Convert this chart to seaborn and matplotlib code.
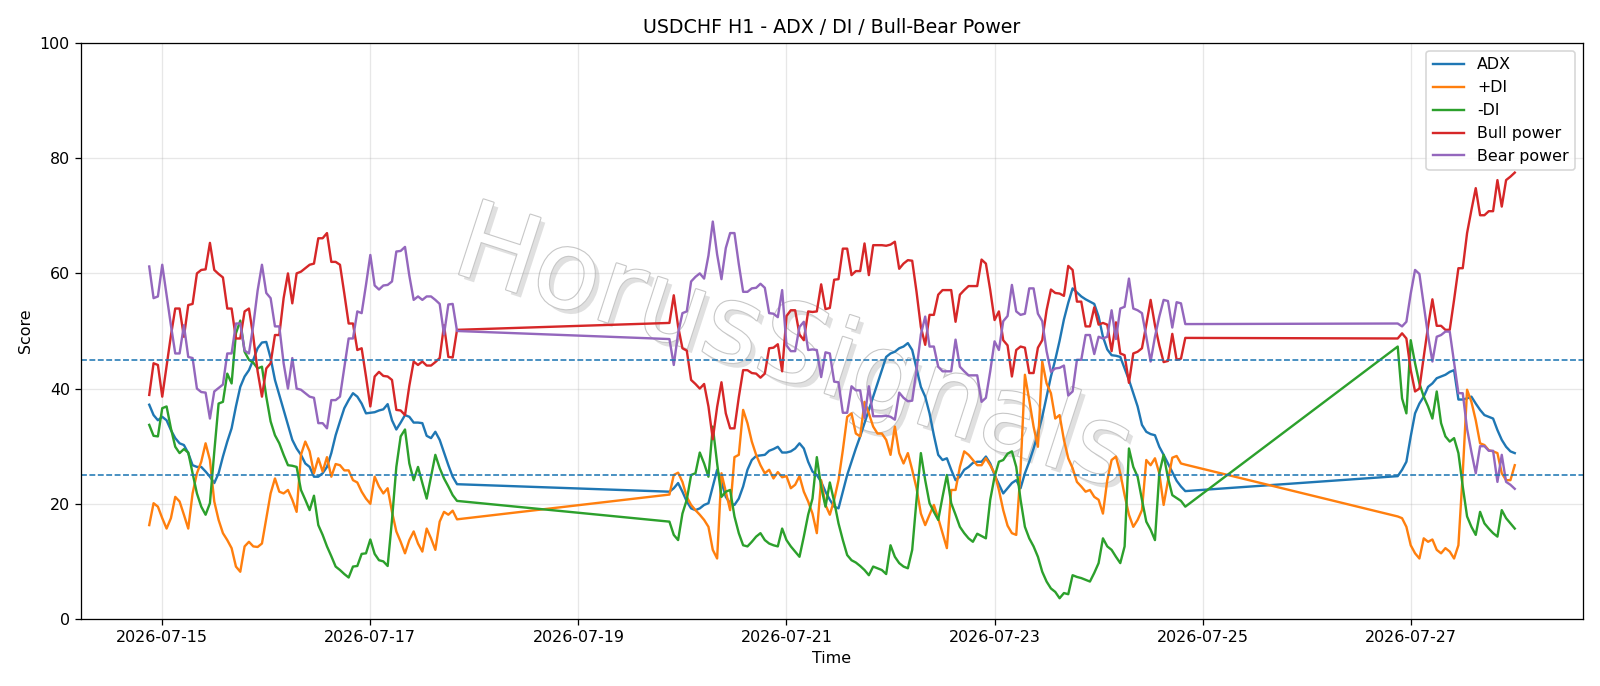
import matplotlib
matplotlib.use("Agg")
import matplotlib.pyplot as plt
import matplotlib.dates as mdates
import matplotlib.patheffects as pe
import pandas as pd
import seaborn as sns

# hourly bars in three trading blocks; weekend gaps are bridged by the line
SEG_STARTS = ["2026-07-14 21:00", "2026-07-19 21:00", "2026-07-26 21:00"]
SEG_LENGTHS = [72, 120, 28]

ADX = [
    37.2, 35.4, 34.5, 35.1, 34.5, 32.8, 31.4, 30.5, 30.2, 28.8,
    26.7, 26.4, 26.4, 25.6, 24.7, 23.6, 25.3, 28.2, 30.8, 33.1,
    36.9, 40.3, 42.1, 43.2, 45.0, 47.0, 48.0, 48.1, 45.3, 41.5,
    38.9, 36.3, 33.7, 31.1, 29.6, 28.5, 27.0, 26.4, 24.7, 24.7,
    25.3, 26.4, 28.8, 31.9, 34.3, 36.6, 38.0, 39.2, 38.6, 37.4,
    35.7, 35.8, 35.9, 36.2, 36.4, 37.3, 34.5, 32.9, 34.1, 35.4,
    35.1, 34.1, 34.1, 34.0, 31.8, 31.4, 32.5, 31.1, 28.9, 26.7,
    24.7, 23.4,
    22.1, 22.7, 23.6, 22.1, 20.4, 19.2, 18.9, 19.2, 19.8, 20.1,
    23.0, 25.9, 23.8, 21.2, 20.1, 19.8, 20.9, 23.0, 25.9, 27.6,
    28.3, 28.4, 28.5, 29.2, 29.5, 29.9, 28.9, 28.9, 29.1, 29.6,
    30.5, 29.6, 27.3, 25.6, 25.0, 23.8, 22.1, 20.7, 19.5, 19.2,
    22.1, 25.0, 27.3, 29.6, 31.7, 34.0, 36.3, 38.6, 40.9, 43.2,
    45.5, 46.1, 46.4, 47.0, 47.3, 47.9, 46.7, 43.5, 40.3, 38.6,
    35.7, 31.9, 28.5, 27.6, 27.9, 25.9, 24.1, 24.7, 25.9, 26.4,
    27.1, 27.3, 27.3, 28.2, 27.0, 25.0, 23.4, 21.8, 22.7, 23.6,
    24.1, 22.7, 25.3, 27.3, 29.6, 32.2, 35.1, 38.6, 42.1, 45.0,
    48.3, 52.0, 54.9, 57.4, 56.7, 56.0, 55.5, 55.1, 54.7, 52.5,
    49.0, 46.8, 45.8, 45.7, 45.5, 43.5, 41.5, 39.2, 36.9, 33.7,
    32.5, 32.1, 31.9, 29.9, 28.5, 27.0, 25.5, 24.0, 23.0, 22.2,
    24.8, 25.9, 27.3, 31.7, 35.7, 37.4, 38.6, 40.3, 40.9, 41.8,
    42.1, 42.4, 42.9, 43.2, 38.1, 38.1, 38.3, 38.6, 37.4, 36.3,
    35.4, 35.1, 34.8, 32.8, 31.1, 29.9, 29.1, 28.8,
]

PLUS_DI = [
    16.3, 20.1, 19.5, 17.5, 15.7, 17.5, 21.2, 20.4, 18.1, 15.7,
    21.8, 25.3, 27.3, 30.5, 27.6, 20.4, 17.2, 14.9, 13.7, 12.3,
    9.1, 8.2, 12.6, 13.4, 12.6, 12.5, 13.1, 17.5, 21.8, 24.4,
    22.1, 21.8, 22.4, 20.7, 18.6, 28.5, 30.8, 29.1, 25.3, 27.9,
    25.6, 28.1, 24.7, 26.9, 26.7, 25.8, 25.8, 24.1, 23.7, 22.1,
    20.9, 20.0, 24.7, 23.0, 21.8, 22.7, 18.6, 15.2, 13.4, 11.4,
    13.7, 15.2, 13.1, 11.7, 15.7, 14.0, 12.0, 16.9, 18.6, 18.1,
    18.8, 17.3,
    21.6, 25.0, 25.4, 23.8, 21.2, 19.8, 18.9, 18.1, 17.2, 16.0,
    12.0, 10.5, 25.3, 22.1, 18.9, 28.1, 28.5, 36.3, 34.0, 30.8,
    28.5, 26.7, 25.3, 25.9, 24.4, 25.5, 24.6, 24.8, 22.7, 23.3,
    24.8, 22.1, 20.4, 18.3, 14.9, 24.1, 19.8, 18.1, 20.7, 24.1,
    29.3, 35.1, 35.7, 32.2, 31.7, 37.7, 35.7, 33.4, 32.2, 32.2,
    31.1, 28.5, 33.4, 28.8, 27.0, 28.8, 25.9, 22.7, 18.3, 16.3,
    18.1, 19.8, 17.5, 14.9, 12.3, 22.4, 22.4, 26.4, 29.1, 28.5,
    27.6, 26.7, 26.7, 27.9, 26.7, 25.3, 22.4, 18.9, 16.2, 14.9,
    14.6, 25.9, 42.4, 38.0, 33.4, 29.9, 44.7, 40.9, 39.2, 34.8,
    35.4, 31.1, 27.9, 26.2, 23.8, 23.0, 22.1, 22.4, 21.2, 20.7,
    18.3, 24.1, 27.6, 28.2, 25.3, 21.5, 18.1, 16.0, 17.2, 18.9,
    27.6, 26.7, 27.9, 25.3, 19.8, 24.0, 28.0, 28.3, 27.0, 26.8,
    17.8, 17.5, 16.0, 12.8, 11.4, 10.5, 14.0, 13.4, 13.8, 12.0,
    11.4, 12.3, 11.7, 10.5, 12.8, 25.3, 39.8, 37.7, 34.5, 30.5,
    30.2, 29.3, 29.1, 28.8, 25.3, 24.1, 24.1, 26.7,
]

MINUS_DI = [
    33.7, 31.8, 31.7, 36.6, 36.9, 33.1, 29.9, 28.8, 29.5, 28.9,
    25.3, 21.8, 19.5, 18.1, 20.1, 29.0, 37.4, 37.7, 42.6, 40.9,
    49.6, 51.8, 46.4, 45.0, 44.5, 43.5, 43.8, 38.6, 34.3, 31.9,
    30.5, 28.5, 26.7, 26.6, 26.4, 22.4, 20.7, 18.9, 21.4, 16.3,
    14.6, 12.6, 10.9, 9.1, 8.5, 7.8, 7.2, 9.1, 9.2, 11.3,
    11.4, 13.8, 11.3, 10.2, 10.0, 9.2, 17.2, 26.4, 31.7, 32.9,
    27.0, 24.1, 26.4, 23.6, 20.9, 24.7, 28.5, 26.2, 24.4, 23.0,
    21.5, 20.5,
    16.9, 14.6, 13.7, 18.3, 20.7, 25.0, 25.3, 28.9, 27.0, 24.7,
    33.4, 27.0, 21.2, 22.1, 22.4, 17.8, 14.9, 12.8, 12.6, 13.4,
    14.3, 14.9, 13.7, 13.1, 12.8, 12.6, 15.7, 13.7, 12.6, 11.7,
    10.8, 14.3, 18.1, 20.9, 28.1, 22.9, 19.5, 23.7, 20.4, 16.6,
    13.7, 11.1, 10.2, 9.8, 9.2, 8.5, 7.6, 9.1, 8.8, 8.5,
    7.8, 12.8, 10.8, 9.7, 9.1, 8.8, 12.0, 20.7, 28.8, 24.1,
    20.1, 18.6, 17.2, 21.2, 25.0, 20.1, 18.1, 16.0, 14.9, 14.0,
    13.4, 14.8, 14.4, 14.0, 20.7, 24.7, 27.3, 27.6, 28.7, 29.1,
    26.4, 20.7, 16.0, 14.0, 12.6, 10.8, 8.2, 6.5, 5.3, 4.7,
    3.6, 4.5, 4.3, 7.6, 7.3, 7.1, 6.8, 6.5, 8.0, 9.7,
    14.0, 12.6, 12.0, 10.8, 9.7, 12.6, 29.6, 26.4, 24.7, 20.7,
    16.9, 15.5, 13.7, 25.3, 28.5, 24.5, 21.5, 21.0, 20.5, 19.5,
    47.3, 38.3, 35.7, 48.4, 44.4, 40.9, 38.6, 36.9, 34.8, 39.5,
    34.0, 31.7, 30.8, 31.4, 28.8, 23.0, 17.8, 16.0, 14.6, 18.6,
    16.6, 15.7, 14.9, 14.3, 18.9, 17.5, 16.6, 15.7,
]

BULL = [
    38.9, 44.4, 44.1, 38.6, 43.9, 49.2, 53.9, 53.9, 49.0, 54.5,
    54.7, 60.0, 60.6, 60.7, 65.3, 60.6, 59.9, 59.3, 53.9, 53.9,
    48.7, 48.7, 53.4, 53.9, 49.0, 43.0, 38.6, 43.5, 44.4, 49.3,
    49.3, 55.7, 60.0, 54.8, 60.0, 60.3, 60.9, 61.5, 61.7, 66.1,
    66.1, 67.0, 62.0, 62.0, 61.5, 56.5, 51.3, 51.3, 46.7, 47.0,
    42.1, 36.9, 42.1, 42.9, 42.2, 42.1, 41.5, 36.3, 36.2, 35.4,
    40.5, 44.7, 44.1, 44.7, 44.0, 44.0, 44.6, 45.3, 51.0, 45.5,
    45.4, 50.2,
    51.4, 56.2, 50.8, 47.0, 46.6, 41.5, 40.8, 40.0, 40.8, 36.9,
    31.2, 36.8, 41.1, 35.7, 33.1, 33.1, 38.5, 43.2, 43.2, 42.7,
    42.6, 41.9, 42.6, 47.0, 47.1, 47.7, 43.0, 52.6, 53.6, 53.6,
    49.4, 48.4, 53.4, 53.3, 53.4, 58.1, 53.8, 54.0, 58.9, 59.0,
    64.3, 64.3, 59.7, 60.4, 60.4, 65.2, 59.7, 64.9, 64.9, 64.9,
    64.8, 65.0, 65.5, 60.8, 61.7, 62.3, 62.2, 56.8, 50.7, 47.6,
    52.8, 52.8, 56.3, 57.1, 57.1, 57.1, 51.6, 56.3, 57.1, 57.8,
    57.8, 57.8, 62.4, 61.7, 57.1, 51.9, 53.4, 48.4, 47.5, 42.1,
    46.7, 47.3, 47.1, 42.7, 42.7, 47.1, 48.4, 53.6, 57.2, 56.6,
    56.5, 56.1, 61.3, 60.6, 55.1, 55.1, 50.8, 50.8, 54.1, 51.1,
    51.4, 51.1, 46.5, 51.5, 46.1, 45.8, 41.0, 46.1, 46.4, 47.0,
    51.1, 55.4, 51.0, 47.5, 44.6, 44.8, 49.5, 45.0, 45.2, 48.8,
    48.7, 49.6, 48.7, 43.2, 39.5, 40.0, 45.5, 50.8, 55.5, 50.9,
    50.9, 50.2, 50.2, 55.4, 60.9, 60.9, 67.0, 71.0, 74.8, 70.1,
    70.1, 70.8, 70.8, 76.2, 71.6, 76.2, 76.8, 77.5,
]

BEAR = [
    61.2, 55.7, 56.0, 61.5, 56.2, 51.0, 46.1, 46.1, 51.0, 45.5,
    45.3, 40.0, 39.4, 39.3, 34.8, 39.5, 40.1, 40.7, 46.1, 46.1,
    51.3, 51.3, 46.6, 46.1, 51.0, 57.0, 61.5, 56.6, 55.7, 50.8,
    50.8, 44.4, 40.0, 45.3, 40.0, 39.8, 39.2, 38.6, 38.4, 34.0,
    34.0, 33.1, 38.0, 38.0, 38.6, 43.6, 48.7, 48.7, 53.4, 53.1,
    58.0, 63.2, 57.9, 57.2, 57.9, 58.0, 58.6, 63.8, 63.9, 64.6,
    59.6, 55.4, 56.0, 55.4, 56.0, 56.0, 55.4, 54.7, 49.4, 54.6,
    54.7, 50.0,
    48.6, 44.1, 49.6, 53.1, 53.4, 58.6, 59.4, 60.0, 59.1, 63.1,
    69.0, 63.3, 59.0, 64.4, 67.0, 67.0, 61.6, 56.8, 56.8, 57.4,
    57.5, 58.2, 57.5, 53.1, 53.0, 52.4, 57.1, 47.5, 46.5, 46.5,
    50.7, 51.6, 46.7, 46.8, 46.7, 42.0, 46.3, 46.1, 41.2, 41.1,
    35.8, 35.8, 40.4, 39.7, 39.7, 34.9, 40.4, 35.2, 35.2, 35.2,
    35.3, 35.1, 34.6, 39.3, 38.4, 37.8, 37.9, 43.3, 49.4, 52.5,
    47.3, 47.3, 43.8, 43.0, 43.0, 43.0, 48.5, 43.8, 43.0, 42.3,
    42.3, 42.3, 37.7, 38.4, 43.0, 48.2, 46.7, 51.7, 52.6, 58.0,
    53.4, 52.8, 53.0, 57.4, 57.4, 53.0, 51.7, 46.5, 42.9, 43.5,
    43.6, 44.0, 38.8, 39.5, 45.0, 45.0, 49.3, 49.3, 46.0, 49.0,
    48.7, 49.0, 53.6, 48.6, 53.9, 54.2, 59.1, 53.9, 53.6, 53.1,
    49.0, 44.7, 49.0, 52.5, 55.4, 55.2, 50.6, 55.0, 54.8, 51.2,
    51.3, 50.8, 51.6, 56.5, 60.6, 59.9, 54.5, 49.2, 44.7, 49.0,
    49.3, 49.9, 49.9, 44.6, 39.2, 39.2, 33.0, 29.0, 25.3, 30.0,
    30.0, 29.2, 29.2, 23.8, 28.5, 23.8, 23.3, 22.6,
]

SERIES = [("ADX", ADX), ("+DI", PLUS_DI), ("-DI", MINUS_DI),
          ("Bull power", BULL), ("Bear power", BEAR)]
LEVELS = [25, 45]

times = pd.DatetimeIndex([])
for start, n in zip(SEG_STARTS, SEG_LENGTHS):
    times = times.append(pd.date_range(start, periods=n, freq="h"))

df = pd.DataFrame({"time": times})
for name, vals in SERIES:
    df[name] = vals

fig, ax = plt.subplots(figsize=(14, 686 / (1600 / 14)), dpi=1600 / 14)
palette = sns.color_palette("tab10")

for i, (name, _) in enumerate(SERIES):
    sns.lineplot(data=df, x="time", y=name, ax=ax, color=palette[i],
                 linewidth=1.5, label=name)

for lvl in LEVELS:
    ax.axhline(lvl, color=palette[0], linestyle="--", linewidth=1)

# faint outlined watermark behind the lines
ax.text(0.474, 0.465, "HorusSignals", transform=ax.transAxes, rotation=-18,
        ha="center", va="center", rotation_mode="anchor", fontsize=68,
        color="white", zorder=0.5,
        path_effects=[pe.withSimplePatchShadow(offset=(3, -3), shadow_rgbFace="0.6", alpha=0.3),
                      pe.Stroke(linewidth=1.4, foreground="0.78"), pe.Normal()])

ax.set_ylim(0, 100)
ax.xaxis.set_major_locator(mdates.DayLocator(bymonthday=range(1, 32, 2)))
ax.xaxis.set_major_formatter(mdates.DateFormatter("%Y-%m-%d"))
ax.grid(True, alpha=0.3)
ax.set_title("USDCHF H1 - ADX / DI / Bull-Bear Power")
ax.set_xlabel("Time")
ax.set_ylabel("Score")
ax.legend(loc="upper right")

fig.subplots_adjust(left=0.0506, right=0.9894, bottom=0.0977, top=0.9373)
fig.savefig("out.png")
